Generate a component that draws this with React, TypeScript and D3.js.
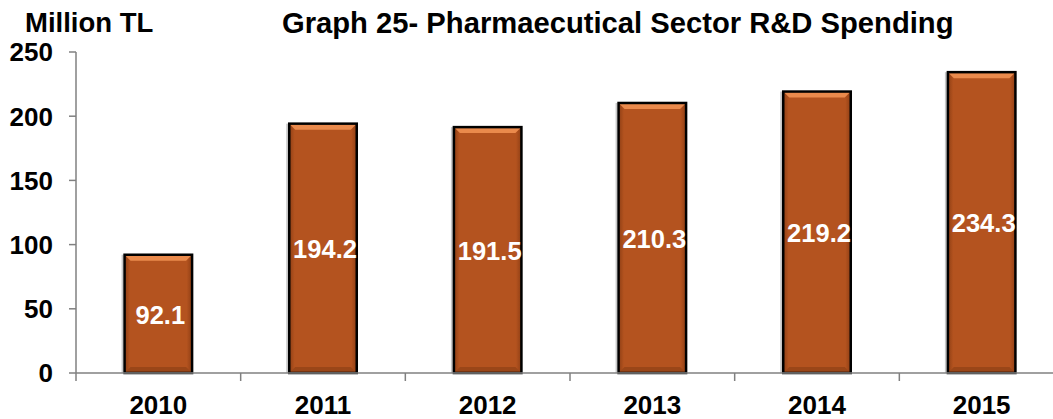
import React from 'react';
import * as d3 from 'd3';

const years = ['2010', '2011', '2012', '2013', '2014', '2015'];
const spending = [92.1, 194.2, 191.5, 210.3, 219.2, 234.3];
const yTicks = [0, 50, 100, 150, 200, 250];

const W = 1053;
const H = 419;
const FONT = 'Liberation Sans, Arial, sans-serif';

const App = () => {
  const x = d3.scaleBand<string>().domain(years).range([76, 1064]).paddingInner(0.59).paddingOuter(0.295);
  const y = d3.scaleLinear().domain([0, 250]).range([373, 52]);
  const step = x.step();
  const bw = x.bandwidth();

  return (
    <svg width={W} height={H} style={{ position: 'absolute', left: 0, top: 0, background: '#fff' }}>
      <defs>
        <linearGradient id="side" x1="0" x2="1" y1="0" y2="0">
          <stop offset="0" stopColor="#8f3f15" />
          <stop offset="0.08" stopColor="#b4531f" />
          <stop offset="0.92" stopColor="#b4531f" />
          <stop offset="1" stopColor="#8f3f15" />
        </linearGradient>
      </defs>

      <text x={25} y={32} fontFamily={FONT} fontWeight="bold" fontSize={27.5}>
        Million TL
      </text>
      <text x={282} y={33} fontFamily={FONT} fontWeight="bold" fontSize={29.2}>
        Graph 25- Pharmaecutical Sector R&amp;D Spending
      </text>

      {/* bars */}
      {spending.map((v, i) => {
        const x0 = x(years[i]) as number;
        const y0 = y(v);
        const h = y(0) - y0;
        const bev = 6;
        return (
          <g key={years[i]}>
            <rect x={x0 - 3} y={y0} width={2} height={h} fill="#c8c8c8" />
            <rect x={x0} y={y0} width={bw} height={h} fill="url(#side)" />
            <path
              d={`M${x0},${y0} L${x0 + bw},${y0} L${x0 + bw - bev},${y0 + bev} L${x0 + bev},${y0 + bev} Z`}
              fill="#ea8a4c"
            />
            <path
              d={`M${x0},${y0 + h} L${x0 + bw},${y0 + h} L${x0 + bw - bev},${y0 + h - bev} L${x0 + bev},${y0 + h - bev} Z`}
              fill="#9a4618"
            />
            <rect x={x0} y={y0} width={bw} height={h} fill="none" stroke="#000" strokeWidth={2.5} />
            <text
              x={x0 + bw / 2 + 2}
              y={(y0 + y(0)) / 2}
              dy="0.38em"
              textAnchor="middle"
              fill="#fff"
              fontFamily={FONT}
              fontWeight="bold"
              fontSize={25.5}
            >
              {v.toFixed(1)}
            </text>
          </g>
        );
      })}

      {/* y axis */}
      <line x1={76} x2={76} y1={y(250)} y2={y(0)} stroke="#808080" strokeWidth={1.5} />
      {yTicks.map(t => (
        <g key={t}>
          <line x1={69} x2={76} y1={y(t)} y2={y(t)} stroke="#808080" strokeWidth={1.5} />
          <text
            x={53}
            y={y(t)}
            dy="0.36em"
            textAnchor="end"
            fontFamily={FONT}
            fontWeight="bold"
            fontSize={26}
          >
            {t}
          </text>
        </g>
      ))}

      {/* x axis */}
      <line x1={76} x2={W} y1={y(0)} y2={y(0)} stroke="#808080" strokeWidth={1.5} />
      {years.map((yr, i) => (
        <g key={yr}>
          <line
            x1={76 + step * i}
            x2={76 + step * i}
            y1={y(0)}
            y2={y(0) + 8}
            stroke="#808080"
            strokeWidth={1.5}
          />
          <text
            x={(x(yr) as number) + bw / 2}
            y={414}
            textAnchor="middle"
            fontFamily={FONT}
            fontWeight="bold"
            fontSize={26}
          >
            {yr}
          </text>
        </g>
      ))}
    </svg>
  );
};

export default App;
